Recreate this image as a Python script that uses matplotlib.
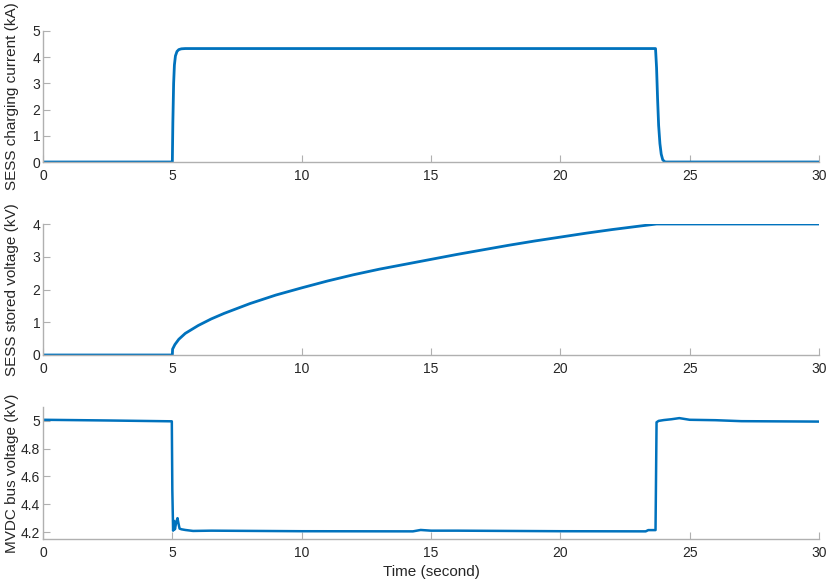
import numpy as np
import matplotlib.pyplot as plt

plt.rcParams['font.family'] = ['Liberation Sans', 'DejaVu Sans']

blue = '#0072BD'

## SESS Ladestrom (kA)
t_cur = [0, 5.0, 5.02, 5.05, 5.08, 5.12, 5.18, 5.25, 5.35, 5.5, 23.68, 23.72, 23.76, 23.8, 23.85, 23.9, 23.96, 24.05, 30]
i_cur = [0, 0, 1.5, 3.0, 3.7, 4.05, 4.22, 4.29, 4.32, 4.33, 4.33, 3.6, 2.4, 1.4, 0.7, 0.3, 0.08, 0, 0]

## SESS Spannung (kV)
t_sto = [0, 5.0, 5.01, 5.1, 5.25, 5.5, 6.0, 6.5, 7.0, 8.0, 9.0, 10.0, 11.0, 12.0, 13.0, 14.0,
         15.0, 16.0, 17.0, 18.0, 19.0, 20.0, 21.0, 22.0, 23.0, 23.72, 30]
v_sto = [0, 0, 0.18, 0.32, 0.48, 0.66, 0.9, 1.1, 1.27, 1.57, 1.83, 2.05, 2.26, 2.45, 2.62, 2.77,
         2.92, 3.07, 3.21, 3.35, 3.48, 3.6, 3.72, 3.83, 3.93, 4.0, 4.0]

## MVDC Busspannung (kV)
t_bus = [0, 2.5, 4.98, 5.0, 5.03, 5.07, 5.1, 5.15, 5.2, 5.24, 5.28, 5.35, 5.5, 5.8, 6.5, 10.0, 14.3,
         14.6, 15.0, 16.0, 20.0, 23.3, 23.4, 23.68, 23.72, 23.8, 24.0, 24.3, 24.6, 25.0, 26.0, 27.0, 30.0]
v_bus = [5.008, 5.003, 4.997, 4.5, 4.21, 4.28, 4.22, 4.27, 4.3, 4.26, 4.225, 4.22, 4.215, 4.208, 4.21, 4.206, 4.205,
         4.215, 4.21, 4.21, 4.206, 4.205, 4.214, 4.214, 4.99, 5.0, 5.006, 5.012, 5.02, 5.008, 5.005, 4.998, 4.995]

fig = plt.figure(figsize=(8.31, 5.82), dpi=100)
left, width = 43 / 831, 776 / 831
ax1 = fig.add_axes([left, 1 - 162 / 582, width, 131 / 582])
ax2 = fig.add_axes([left, 1 - 355 / 582, width, 131 / 582])
ax3 = fig.add_axes([left, 1 - 539 / 582, width, 132 / 582])

ax1.plot(t_cur, i_cur, color=blue, lw=2)
ax2.plot(t_sto, v_sto, color=blue, lw=2)
ax3.plot(t_bus, v_bus, color=blue, lw=1.8)

ax1.set_ylim(0, 5)
ax1.set_yticks([0, 1, 2, 3, 4, 5])
ax2.set_ylim(0, 4)
ax2.set_yticks([0, 1, 2, 3, 4])
ax3.set_ylim(4.15, 5.1)
ax3.set_yticks([4.2, 4.4, 4.6, 4.8, 5.0])
ax3.set_yticklabels(['4.2', '4.4', '4.6', '4.8', '5'])

ax1.set_ylabel('SESS charging current (kA)', fontsize=11, color='#262626')
ax2.set_ylabel('SESS stored voltage (kV)', fontsize=11, color='#262626')
ax3.set_ylabel('MVDC bus voltage (kV)', fontsize=11, color='#262626')
ax3.set_xlabel('Time (second)', fontsize=11, color='#262626')
ax3.xaxis.set_label_coords(0.5, -0.195)

for ax in (ax1, ax2, ax3):
    ax.set_xlim(0, 30)
    ax.set_xticks([0, 5, 10, 15, 20, 25, 30])
    ax.yaxis.set_label_coords(-0.031, 0.5)
    ax.spines['top'].set_visible(False)
    ax.spines['right'].set_visible(False)
    ax.spines['left'].set_color('#b0b0b0')
    ax.spines['bottom'].set_color('#b0b0b0')
    ax.tick_params(direction='in', length=5, color='#b0b0b0', labelcolor='#262626', labelsize=10)
    ax.tick_params(axis='y', pad=2)
    ax.tick_params(axis='x', pad=5)
    for s in ax.spines.values():
        s.set_linewidth(1)

fig.savefig('out.png', dpi=100)
